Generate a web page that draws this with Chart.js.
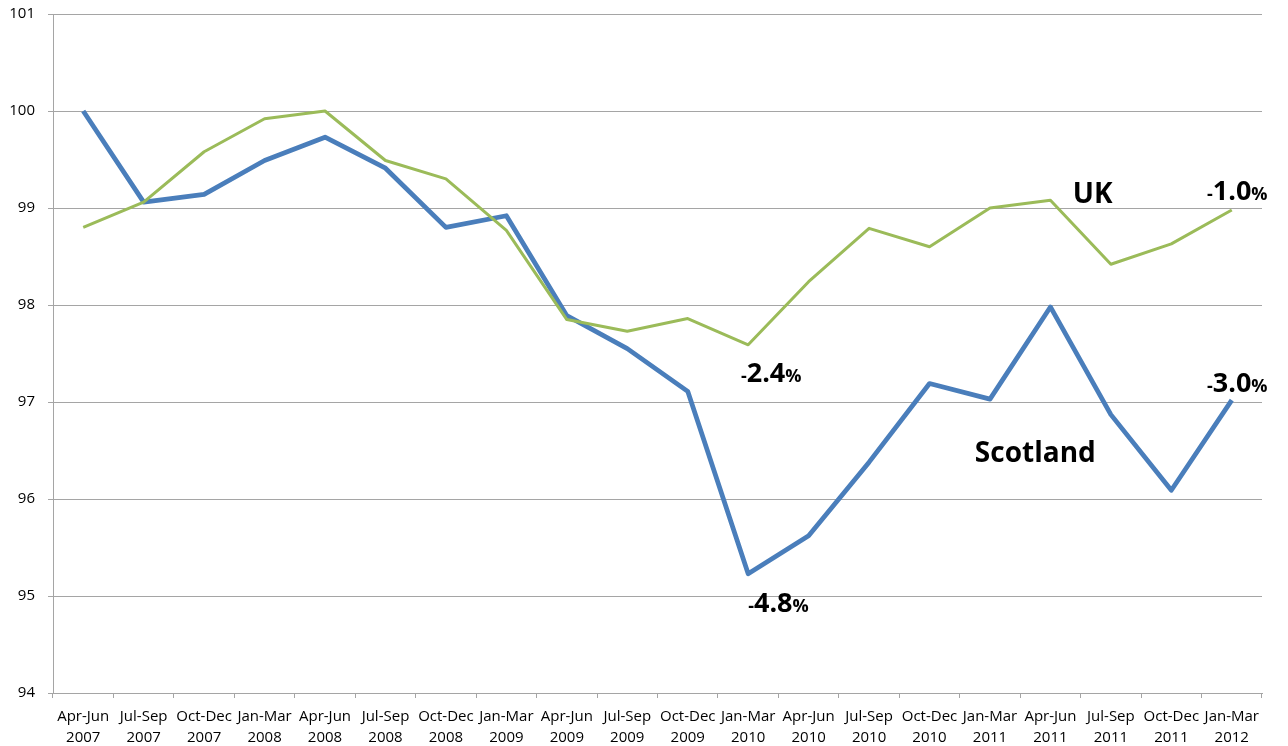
<!DOCTYPE html>
<html>
<head>
<meta charset="utf-8">
<script src="https://cdn.jsdelivr.net/npm/chart.js@4.4.1/dist/chart.umd.min.js"></script>
<style>
  html, body { margin: 0; padding: 0; background: #fff; }
  #wrap { width: 1288px; height: 746px; position: relative; }
</style>
</head>
<body>
<div id="wrap"><canvas id="c"></canvas></div>
<script>
const quarters = ['Apr-Jun','Jul-Sep','Oct-Dec','Jan-Mar','Apr-Jun','Jul-Sep','Oct-Dec','Jan-Mar','Apr-Jun','Jul-Sep',
                  'Oct-Dec','Jan-Mar','Apr-Jun','Jul-Sep','Oct-Dec','Jan-Mar','Apr-Jun','Jul-Sep','Oct-Dec','Jan-Mar'];
const years = ['2007','2007','2007','2008','2008','2008','2008','2009','2009','2009',
               '2009','2010','2010','2010','2010','2011','2011','2011','2011','2012'];
const scotland = [100.0, 99.06, 99.14, 99.49, 99.73, 99.41, 98.80, 98.92, 97.89, 97.55,
                  97.11, 95.23, 95.62, 96.38, 97.19, 97.03, 97.98, 96.87, 96.09, 97.02];
const uk = [98.80, 99.06, 99.58, 99.92, 100.0, 99.49, 99.30, 98.77, 97.85, 97.73,
            97.86, 97.59, 98.24, 98.79, 98.60, 99.00, 99.08, 98.42, 98.63, 98.98];
const yTicks = [94, 95, 96, 97, 98, 99, 100, 101];

// text notes anchored in data space (category index, value); left aligned at baseline
const notes = [
  { text: '-2.4%', i: 10.88, v: 97.21 },
  { text: '-4.8%', i: 11.00, v: 94.83 },
  { text: 'UK', i: 16.37, v: 99.05 },
  { text: 'Scotland', i: 14.75, v: 96.38 },
  { text: '-1.0%', i: 18.59, v: 99.08 },
  { text: '-3.0%', i: 18.59, v: 97.10 }
];

const labels = quarters.map((q, k) => [q, years[k]]);
const FONT = '"Open Sans", "DejaVu Sans", sans-serif';
const GRID = '#A5A5A5';

const notesPlugin = {
  id: 'notes',
  afterDatasetsDraw(chart) {
    const ctx = chart.ctx;
    const xs = chart.scales.x, ys = chart.scales.y;
    ctx.save();
    ctx.fillStyle = '#000';
    ctx.textBaseline = 'alphabetic';
    ctx.textAlign = 'left';
    notes.forEach(n => {
      let x = xs.getPixelForValue(n.i);
      const y = ys.getPixelForValue(n.v);
      if (n.text.endsWith('%')) {
        const sign = n.text.slice(0, 1);
        const num = n.text.slice(1, -1);
        ctx.font = 'bold 18px ' + FONT;
        ctx.fillText(sign, x, y);
        x += ctx.measureText(sign).width;
        ctx.font = 'bold 27px ' + FONT;
        ctx.fillText(num, x, y);
        x += ctx.measureText(num).width;
        ctx.font = 'bold 18px ' + FONT;
        ctx.fillText('%', x, y);
      } else {
        ctx.font = 'bold 28px ' + FONT;
        ctx.fillText(n.text, x, y);
      }
    });
    ctx.restore();
  }
};

new Chart(document.getElementById('c'), {
  type: 'line',
  data: {
    labels: labels,
    datasets: [
      { label: 'Scotland', data: scotland, borderColor: '#4A7EBB', borderWidth: 4.75,
        pointRadius: 0, tension: 0, borderJoinStyle: 'round', borderCapStyle: 'butt', order: 2 },
      { label: 'UK', data: uk, borderColor: '#9BBB59', borderWidth: 3,
        pointRadius: 0, tension: 0, borderJoinStyle: 'round', borderCapStyle: 'butt', order: 1 }
    ]
  },
  options: {
    responsive: true,
    maintainAspectRatio: false,
    animation: false,
    layout: { padding: { top: 14, right: 26, left: 0, bottom: 0 } },
    plugins: { legend: { display: false }, tooltip: { enabled: false } },
    scales: {
      x: {
        offset: true,
        grid: { display: true, drawOnChartArea: false, drawTicks: true, offset: true,
                tickLength: 5, color: GRID },
        border: { display: true, color: GRID, width: 1 },
        ticks: { autoSkip: false, maxRotation: 0, minRotation: 0, padding: 8, color: '#000',
                 font: { family: FONT, size: 15, lineHeight: 1.4 } },
        afterFit(s) { s.height = 53; s.paddingLeft = 0; s.paddingRight = 0; }
      },
      y: {
        min: 94, max: 101,
        afterBuildTicks(s) { s.ticks = yTicks.map(v => ({ value: v })); },
        grid: { color: GRID, lineWidth: 1, drawTicks: true, tickLength: 5 },
        border: { display: true, color: GRID, width: 1 },
        ticks: { padding: 13, color: '#000', font: { family: FONT, size: 15 } },
        afterFit(s) { s.width = 53; s.paddingTop = 0; s.paddingBottom = 0; }
      }
    }
  },
  plugins: [notesPlugin]
});
</script>
</body>
</html>
